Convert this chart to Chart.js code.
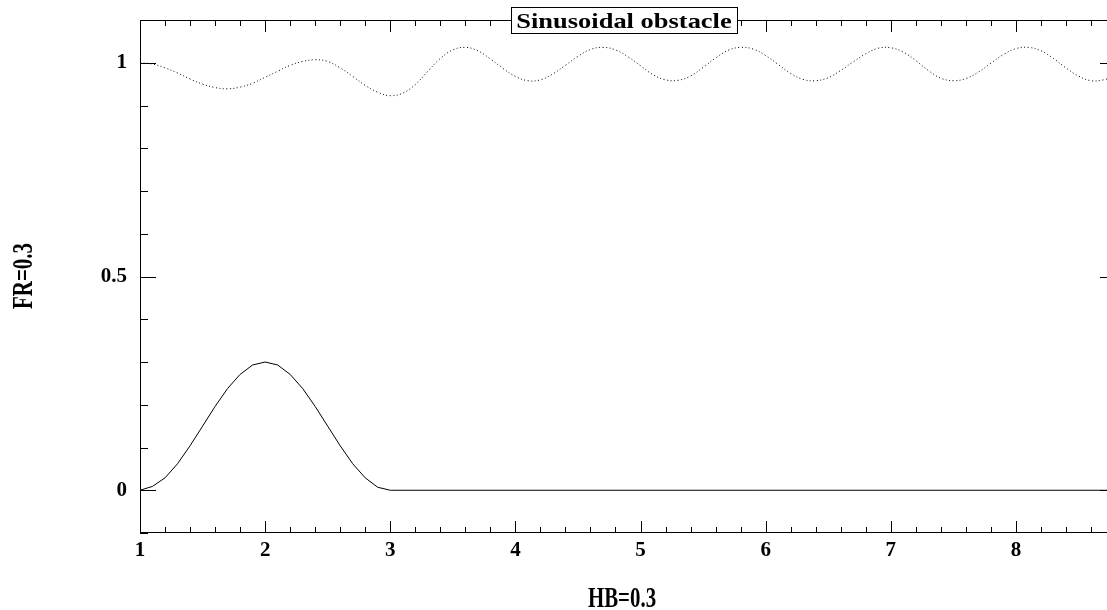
<!DOCTYPE html>
<html>
<head>
<meta charset="utf-8">
<script src="https://cdn.jsdelivr.net/npm/chart.js@4"></script>
<style>
  html, body { margin: 0; padding: 0; background: #fff; overflow: hidden; }
  #wrap { width: 1116px; height: 610px; }
</style>
</head>
<body>
<div id="wrap"><canvas id="chart" width="1116" height="610"></canvas></div>
<script>
// tick labels
const xTickValues = [1, 2, 3, 4, 5, 6, 7, 8];
const yTickValues = [0, 0.5, 1];
const yTickLabels = ["0", "0.5", "1"];

// obstacle shape (solid)
const obstacleX = [1.0, 1.1, 1.2, 1.3, 1.4, 1.5, 1.6, 1.7, 1.8, 1.9, 2.0,
  2.1, 2.2, 2.3, 2.4, 2.5, 2.6, 2.7, 2.8, 2.9, 3.0, 8.8];
const obstacleY = [0, 0.009, 0.029, 0.062, 0.104, 0.150, 0.196, 0.238, 0.271, 0.293, 0.300,
  0.293, 0.271, 0.238, 0.196, 0.150, 0.104, 0.062, 0.029, 0.007, 0, 0];

// free surface (dotted)
const surfaceX = [1.0, 1.1, 1.2, 1.3, 1.4, 1.5, 1.6, 1.7, 1.8, 1.9,
  2.0, 2.1, 2.2, 2.3, 2.4, 2.5, 2.6, 2.7, 2.8, 2.9,
  3.0, 3.1, 3.2, 3.3, 3.4, 3.5, 3.6, 3.7, 3.8, 3.9,
  4.0, 4.1, 4.2, 4.3, 4.4, 4.5, 4.6, 4.7, 4.8, 4.9,
  5.0, 5.1, 5.2, 5.3, 5.4, 5.5, 5.6, 5.7, 5.8, 5.9,
  6.0, 6.1, 6.2, 6.3, 6.4, 6.5, 6.6, 6.7, 6.8, 6.9,
  7.0, 7.1, 7.2, 7.3, 7.4, 7.5, 7.6, 7.7, 7.8, 7.9,
  8.0, 8.1, 8.2, 8.3, 8.4, 8.5, 8.6, 8.7, 8.8];
const surfaceY = [1.000, 0.997, 0.988, 0.976, 0.962, 0.950, 0.942, 0.939, 0.943, 0.952,
  0.966, 0.980, 0.994, 1.003, 1.007, 1.003, 0.988, 0.968, 0.947, 0.931,
  0.923, 0.929, 0.949, 0.980, 1.010, 1.030, 1.036, 1.028, 1.009, 0.987,
  0.968, 0.958, 0.960, 0.974, 0.994, 1.015, 1.031, 1.036, 1.030, 1.014,
  0.993, 0.972, 0.960, 0.959, 0.969, 0.989, 1.011, 1.029, 1.036, 1.032,
  1.017, 0.996, 0.975, 0.961, 0.958, 0.965, 0.982, 1.002, 1.021, 1.034,
  1.035, 1.025, 1.005, 0.982, 0.964, 0.958, 0.963, 0.978, 0.999, 1.019,
  1.033, 1.036, 1.028, 1.010, 0.988, 0.969, 0.958, 0.960, 0.970];

const titleText = "Sinusoidal obstacle";
const xTitle = "HB=0.3";
const yTitle = "FR=0.3";

const toPoints = (xs, ys) => xs.map((x, i) => ({ x, y: ys[i] }));

// frame with inward ticks, boxed title and condensed axis titles
const framePlugin = {
  id: "frame",
  afterDraw(chart) {
    const { ctx, chartArea: a, scales } = chart;
    const xs = scales.x, ys = scales.y;
    ctx.save();
    ctx.strokeStyle = "#000";
    ctx.lineWidth = 1;
    ctx.strokeRect(Math.round(a.left) + 0.5, Math.round(a.top) + 0.5,
      Math.round(a.right - a.left), Math.round(a.bottom - a.top) - 1);

    ctx.beginPath();
    for (let i = 0; i <= 39; i++) {
      const v = 1 + i * 0.2;
      if (v > xs.max + 1e-9) break;
      const px = Math.round(xs.getPixelForValue(v)) + 0.5;
      const len = (i % 5 === 0) ? 12 : 6;
      ctx.moveTo(px, a.bottom); ctx.lineTo(px, a.bottom - len);
      ctx.moveTo(px, a.top); ctx.lineTo(px, a.top + len);
    }
    for (let i = 0; i <= 12; i++) {
      const v = -0.1 + i * 0.1;
      const py = Math.round(ys.getPixelForValue(v)) + 0.5;
      const len = ((i - 1) % 5 === 0) ? 16 : 8;
      ctx.moveTo(a.left, py); ctx.lineTo(a.left + len, py);
      ctx.moveTo(a.right, py); ctx.lineTo(a.right - len, py);
    }
    ctx.stroke();

    // title box
    ctx.font = "bold 21px 'Liberation Serif'";
    const sx = 1.26;
    const tw = ctx.measureText(titleText).width * sx;
    const cx = (a.left + a.right) / 2 - 4;
    const bw = tw + 11;
    ctx.fillStyle = "#fff";
    ctx.fillRect(Math.round(cx - bw / 2) + 0.5, 7.5, Math.round(bw), 26);
    ctx.strokeRect(Math.round(cx - bw / 2) + 0.5, 7.5, Math.round(bw), 26);
    ctx.fillStyle = "#000";
    ctx.textAlign = "center";
    ctx.textBaseline = "alphabetic";
    ctx.save();
    ctx.translate(cx, 28);
    ctx.scale(sx, 1);
    ctx.fillText(titleText, 0, 0);
    ctx.restore();

    // axis titles
    ctx.font = "bold 29px 'Liberation Serif'";
    ctx.save();
    ctx.translate(cx - 2, 607);
    ctx.scale(0.72, 1);
    ctx.fillText(xTitle, 0, 0);
    ctx.restore();

    ctx.save();
    ctx.translate(32, 276);
    ctx.rotate(-Math.PI / 2);
    ctx.scale(0.72, 1);
    ctx.fillText(yTitle, 0, 0);
    ctx.restore();

    ctx.restore();
  }
};

new Chart(document.getElementById("chart"), {
  type: "line",
  data: {
    datasets: [
      {
        data: toPoints(surfaceX, surfaceY),
        borderColor: "#000",
        borderWidth: 1,
        borderDash: [1, 2.5],
        pointRadius: 0,
        tension: 0.4,
        fill: false
      },
      {
        data: toPoints(obstacleX, obstacleY),
        borderColor: "#000",
        borderWidth: 1,
        pointRadius: 0,
        tension: 0,
        fill: false
      }
    ]
  },
  options: {
    responsive: false,
    animation: false,
    devicePixelRatio: 1,
    layout: { padding: { top: 20, right: 0, left: 0, bottom: 0 } },
    plugins: {
      legend: { display: false },
      tooltip: { enabled: false },
      title: { display: false }
    },
    scales: {
      x: {
        type: "linear",
        min: 1,
        max: 8.8,
        grid: { display: false, drawTicks: false },
        border: { display: false },
        afterBuildTicks: s => { s.ticks = xTickValues.map(v => ({ value: v })); },
        afterFit: s => { s.height = 77; s.paddingLeft = 0; s.paddingRight = 0; },
        ticks: {
          padding: 5,
          color: "#000",
          font: { family: "'Liberation Serif'", weight: "bold", size: 21 },
          callback: v => String(v)
        }
      },
      y: {
        type: "linear",
        min: -0.1,
        max: 1.1,
        grid: { display: false, drawTicks: false },
        border: { display: false },
        afterBuildTicks: s => { s.ticks = yTickValues.map(v => ({ value: v })); },
        afterFit: s => { s.width = 140; s.paddingTop = 0; s.paddingBottom = 0; },
        ticks: {
          padding: 13,
          color: "#000",
          font: { family: "'Liberation Serif'", weight: "bold", size: 21 },
          callback: v => yTickLabels[yTickValues.indexOf(v)]
        }
      }
    }
  },
  plugins: [framePlugin]
});
</script>
</body>
</html>
